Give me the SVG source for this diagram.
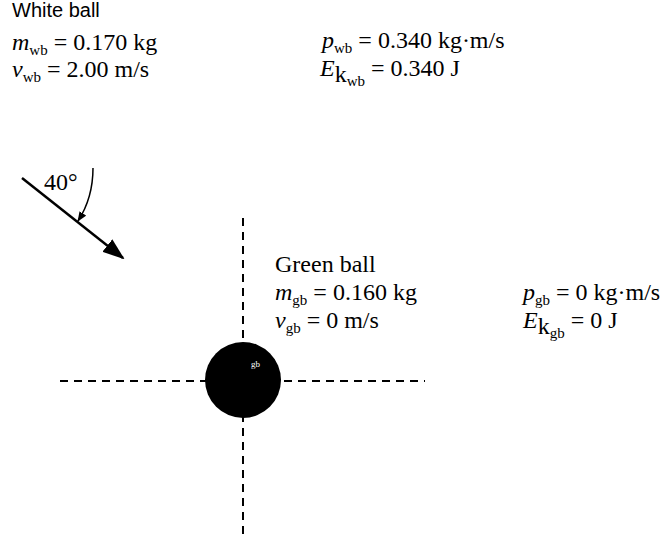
<svg xmlns="http://www.w3.org/2000/svg" width="663" height="534" viewBox="0 0 663 534">
<style>
text{font-family:"Liberation Serif","Times New Roman",serif;font-size:24px;fill:#000}
.i{font-style:italic}
.s{font-size:15px}
.dash{stroke:#000;stroke-width:2;stroke-dasharray:8,6;fill:none}
</style>
<defs>
<marker id="ah" markerWidth="10" markerHeight="8" refX="9" refY="4" orient="auto" markerUnits="userSpaceOnUse" viewBox="0 0 10 8"><path d="M0,0 L10,4 L0,8 z" fill="#000"/></marker>
<marker id="big" markerWidth="22" markerHeight="16" refX="20" refY="8" orient="auto" markerUnits="userSpaceOnUse" viewBox="0 0 22 16"><path d="M0,0 L22,8 L0,16 z" fill="#000"/></marker>
</defs>
<rect width="663" height="534" fill="#fff"/>
<g id="white-ball-data">
<text x="12" y="17" style="font-family:'Liberation Sans',Arial,sans-serif;font-size:20px">White ball</text>
<text x="12" y="50"><tspan class="i">m</tspan><tspan class="s" dy="5">wb</tspan><tspan dy="-5"> = 0.170 kg</tspan></text>
<text x="12" y="77"><tspan class="i">v</tspan><tspan class="s" dy="5">wb</tspan><tspan dy="-5"> = 2.00 m/s</tspan></text>
<text x="322" y="48"><tspan class="i">p</tspan><tspan class="s" dy="5">wb</tspan><tspan dy="-5"> = 0.340 kg·m/s</tspan></text>
<text x="320" y="76"><tspan class="i">E</tspan><tspan dy="6">k</tspan><tspan class="s" dy="4">wb</tspan><tspan dy="-10"> = 0.340 J</tspan></text>
</g>
<g id="connectors">
<line x1="22" y1="178" x2="123" y2="258" stroke="#000" stroke-width="2.5" marker-end="url(#big)"/>
<path d="M93,168 Q93,198 78,221" stroke="#000" stroke-width="1.5" fill="none" marker-end="url(#ah)"/>
<line class="dash" x1="243" y1="218" x2="243" y2="534"/>
<line class="dash" x1="60" y1="381" x2="425" y2="381"/>
</g>
<g id="angle-label"><text x="44" y="190">40°</text></g>
<g id="green-ball">
<circle cx="243" cy="380" r="38" fill="#000"/>
<text x="251" y="367" style="font-size:9px;fill:#fff">gb</text>
</g>
<g id="green-ball-data">
<text x="275" y="272">Green ball</text>
<text x="275" y="300"><tspan class="i">m</tspan><tspan class="s" dy="5">gb</tspan><tspan dy="-5"> = 0.160 kg</tspan></text>
<text x="275" y="328"><tspan class="i">v</tspan><tspan class="s" dy="5">gb</tspan><tspan dy="-5"> = 0 m/s</tspan></text>
<text x="523" y="300"><tspan class="i">p</tspan><tspan class="s" dy="5">gb</tspan><tspan dy="-5"> = 0 kg·m/s</tspan></text>
<text x="523" y="328"><tspan class="i">E</tspan><tspan dy="6">k</tspan><tspan class="s" dy="4">gb</tspan><tspan dy="-10"> = 0 J</tspan></text>
</g>
</svg>
